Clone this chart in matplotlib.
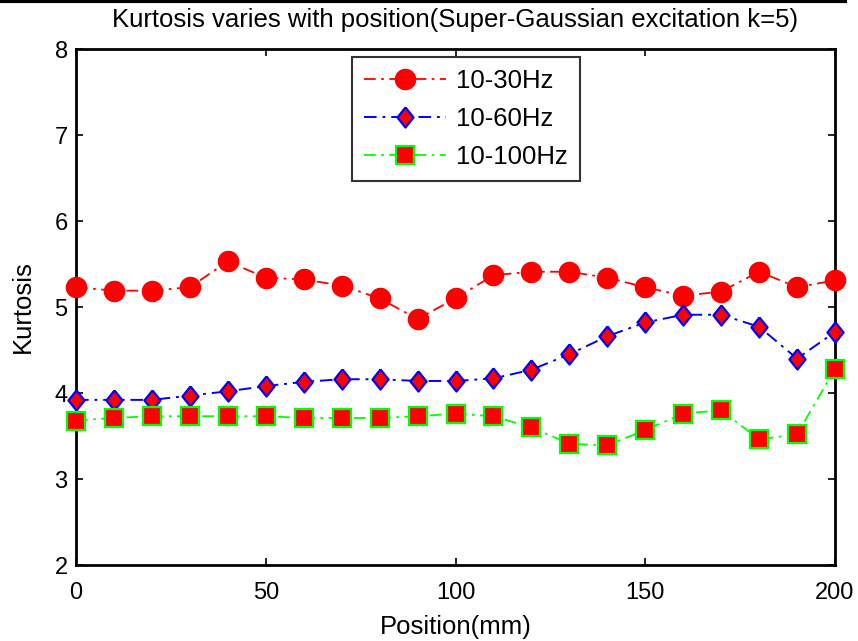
import matplotlib
matplotlib.use('Agg')
import matplotlib.pyplot as plt
from matplotlib.lines import Line2D
import numpy as np

plt.rcParams['font.family'] = ['Liberation Sans', 'DejaVu Sans']

position = [0, 10, 20, 30, 40, 50, 60, 70, 80, 90, 100,
            110, 120, 130, 140, 150, 160, 170, 180, 190, 200]

kurt_30 = [5.23, 5.19, 5.19, 5.23, 5.53, 5.34, 5.32, 5.25, 5.10, 4.86, 5.10,
           5.37, 5.41, 5.41, 5.34, 5.23, 5.13, 5.18, 5.41, 5.23, 5.31]
kurt_60 = [3.92, 3.92, 3.92, 3.97, 4.02, 4.08, 4.13, 4.16, 4.16, 4.14, 4.14,
           4.17, 4.27, 4.45, 4.66, 4.82, 4.91, 4.91, 4.77, 4.40, 4.71]
kurt_100 = [3.68, 3.71, 3.73, 3.73, 3.73, 3.73, 3.71, 3.71, 3.71, 3.73, 3.76,
            3.73, 3.60, 3.41, 3.39, 3.57, 3.76, 3.80, 3.46, 3.52, 4.28]

labels = ['10-30Hz', '10-60Hz', '10-100Hz']

diamond = [(0, 1), (0.8, 0), (0, -1), (-0.8, 0), (0, 1)]

fig = plt.figure(figsize=(8.58, 6.41), dpi=100)
ax = fig.add_axes([76 / 858, 1 - 565 / 641, 759 / 858, 516 / 641])

dash = (0, (6.5, 3, 1.5, 3))
ax.plot(position, kurt_30, color='red', linestyle=dash, linewidth=1.3,
        marker='o', markersize=14.5, markerfacecolor='red', markeredgecolor='red',
        label=labels[0], clip_on=False, zorder=3)
ax.plot(position, kurt_60, color='blue', linestyle=dash, linewidth=1.4,
        marker=diamond, markersize=14.5, markerfacecolor='red', markeredgecolor='blue',
        markeredgewidth=1.6, label=labels[1], clip_on=False, zorder=3)
ax.plot(position, kurt_100, color='#00ff00', linestyle=dash, linewidth=1.3,
        marker='s', markersize=12.5, markerfacecolor='red', markeredgecolor='#00ff00',
        markeredgewidth=1.6, label=labels[2], clip_on=False, zorder=3)

ax.set_xlim(0, 200)
ax.set_ylim(2, 8)
ax.set_xticks([0, 50, 100, 150, 200])
ax.set_yticks([2, 3, 4, 5, 6, 7, 8])
ax.tick_params(direction='in', length=5, width=1.2, labelsize=17, top=True, right=True)
ax.tick_params(axis='x', pad=12)
ax.tick_params(axis='y', pad=6)
for sp in ax.spines.values():
    sp.set_linewidth(2)

ax.set_title('Kurtosis varies with position(Super-Gaussian excitation k=5)', fontsize=18.5, pad=16)
ax.set_xlabel('Position(mm)', fontsize=18.5, labelpad=8)
ax.set_ylabel('Kurtosis', fontsize=18.5, labelpad=14)

leg = ax.legend(loc='upper left', bbox_to_anchor=(0.364, 0.984), borderaxespad=0,
                fontsize=18.5, frameon=True, fancybox=False, edgecolor='black',
                handlelength=3.2, borderpad=0.45, labelspacing=0.55, handletextpad=0.4)
leg.get_frame().set_linewidth(1.5)

fig.add_artist(Line2D([0, 845 / 858], [0.998, 0.998], color='black', linewidth=3,
                      transform=fig.transFigure))

fig.savefig('out.png', dpi=100)
